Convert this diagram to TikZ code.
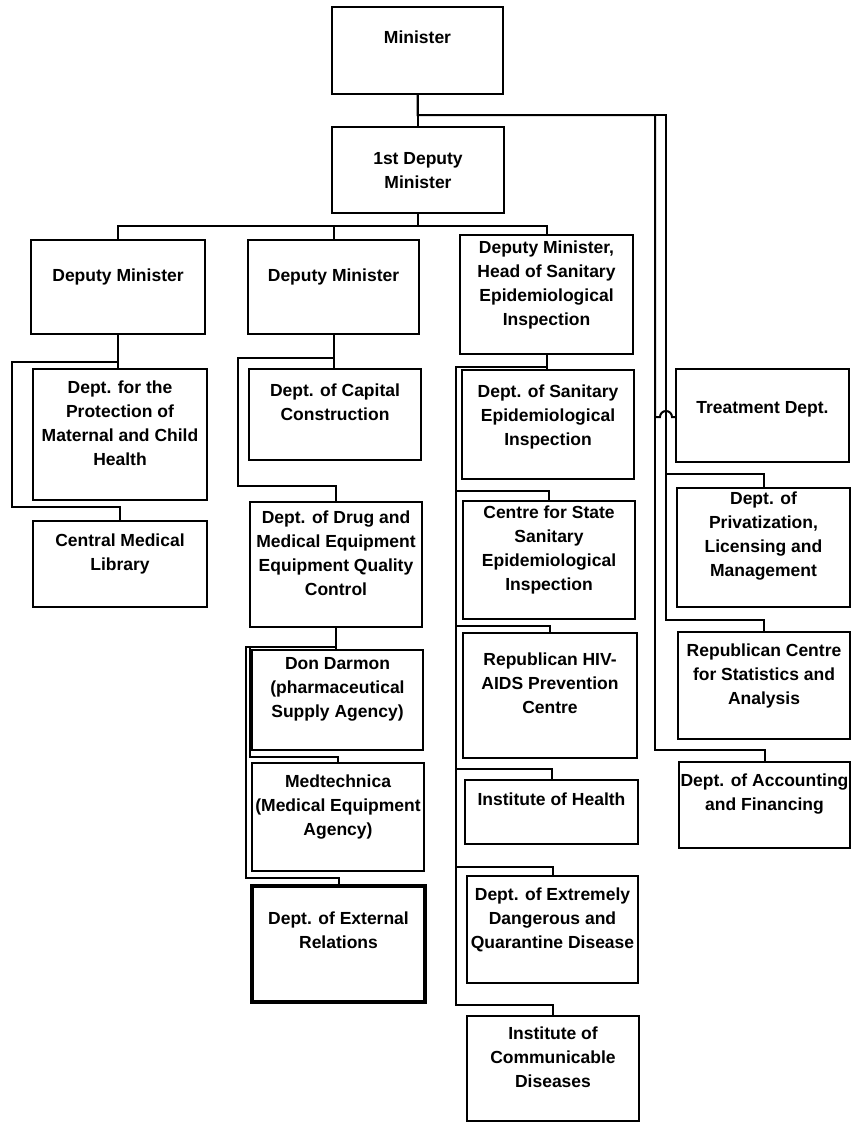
\documentclass[tikz,border=0pt]{standalone}
\usepackage{fontspec}
\setmainfont{Liberation Sans}
\tikzset{
  obox/.style={draw, line width=2.3pt, inner sep=0pt, outer sep=0pt},
  otxt/.style={font=\bfseries\fontsize{17.5}{24}\selectfont, align=center, inner sep=0pt},
  conn/.style={line width=2pt}
}
% #1 extra style, #2 name, #3 x1, #4 y1, #5 x2, #6 y2, #7 first line centre, #8 text
\newcommand{\ob}[8][]{%
  \node[obox,#1,minimum width={#5-#3},minimum height={#6-#4},anchor=north west] (#2) at (#3,#4) {};
  \node[otxt,anchor=north] (#2t) at ({(#3+#5)/2},{#7-7}) {\rule{0pt}{13pt}#8};
}
\begin{document}
\begin{tikzpicture}[x=1pt,y=-1pt]
\useasboundingbox (0,0) rectangle (852,1124);
\ob{min}{332}{7}{503}{94}{37}{Minister}
\ob{dep1}{332}{127}{504}{213}{158}{1st Deputy\\Minister}
\ob{dmL}{31}{240}{205}{334}{275}{Deputy Minister}
\ob{dmM}{248}{240}{419}{334}{275}{Deputy Minister}
\ob{head}{460}{235}{633}{354}{247}{Deputy Minister,\\Head of Sanitary\\Epidemiological\\Inspection}
\ob{prot}{33}{369}{207}{500}{387}{Dept. for the\\Protection of\\Maternal and Child\\Health}
\ob{lib}{33}{521}{207}{607}{540}{Central Medical\\Library}
\ob{cap}{249}{369}{421}{460}{390}{Dept. of Capital\\Construction}
\ob{drug}{250}{502}{422}{627}{517}{Dept. of Drug and\\Medical Equipment\\Equipment Quality\\Control}
\ob{don}{252}{650}{423}{750}{663}{Don Darmon\\(pharmaceutical\\Supply Agency)}
\ob{med}{252}{763}{424}{871}{781}{Medtechnica\\(Medical Equipment\\Agency)}
\ob[line width=4.5pt]{ext}{252}{886}{425}{1002}{918}{Dept. of External\\Relations}
\ob{san}{462}{370}{634}{479}{391}{Dept. of Sanitary\\Epidemiological\\Inspection}
\ob{cen}{463}{501}{635}{619}{512}{Centre for State\\Sanitary\\Epidemiological\\Inspection}
\ob{hiv}{463}{633}{637}{758}{659}{Republican HIV-\\AIDS Prevention\\Centre}
\ob{ih}{465}{780}{638}{844}{799}{Institute of Health}
\ob{edq}{467}{876}{638}{983}{894}{Dept. of Extremely\\Dangerous and\\Quarantine Disease}
\ob{icd}{467}{1016}{639}{1121}{1033}{Institute of\\Communicable\\Diseases}
\ob{treat}{676}{369}{849}{462}{407}{Treatment Dept.}
\ob{priv}{677}{488}{850}{607}{498}{Dept. of\\Privatization,\\Licensing and\\Management}
\ob{rep}{678}{632}{850}{739}{650}{Republican Centre\\for Statistics and\\Analysis}
\ob{acc}{679}{762}{850}{848}{780}{Dept. of Accounting\\and Financing}

% top
\draw[conn] (min.south) -- (min.south |- dep1.north);
\draw[conn] (dep1.south) -- (dep1.south |- 0,226);
\draw[conn] (dmL.north) -- (dmL.north |- 0,226) -- (head.north |- 0,226) -- (head.north);
\draw[conn] (dmM.north) -- (dmM.north |- 0,226);
% left column
\draw[conn] (dmL.south) -- (dmL.south |- prot.north);
\draw[conn] (dmL.south) -- (dmL.south |- 0,362) -- (12,362) -- (12,507) -- (lib.north |- 0,507) -- (lib.north);
% middle column
\draw[conn] (dmM.south) -- (dmM.south |- cap.north);
\draw[conn] (dmM.south) -- (dmM.south |- 0,358) -- (238,358) -- (238,486) -- (drug.north |- 0,486) -- (drug.north);
\draw[conn] (drug.south) -- (drug.south |- don.north);
\draw[conn] (drug.south) -- (drug.south |- 0,647) -- (250,647) -- (250,757) -- (med.north |- 0,757) -- (med.north);
\draw[conn] (drug.south) -- (drug.south |- 0,647) -- (246,647) -- (246,878) -- (ext.north |- 0,878) -- (ext.north);
% sanitary column
\draw[conn] (head.south) -- (head.south |- san.north);
\draw[conn] (head.south) -- (head.south |- 0,367) -- (456,367) -- (456,491) -- (cen.north |- 0,491) -- (cen.north);
\draw[conn] (head.south) -- (head.south |- 0,367) -- (456,367) -- (456,626) -- (hiv.north |- 0,626) -- (hiv.north);
\draw[conn] (head.south) -- (head.south |- 0,367) -- (456,367) -- (456,769) -- (ih.north |- 0,769) -- (ih.north);
\draw[conn] (head.south) -- (head.south |- 0,367) -- (456,367) -- (456,867) -- (edq.north |- 0,867) -- (edq.north);
\draw[conn] (head.south) -- (head.south |- 0,367) -- (456,367) -- (456,1005) -- (icd.north |- 0,1005) -- (icd.north);
% right side
\draw[conn] (min.south) -- (min.south |- 0,115) -- (655,115) -- (655,750) -- (acc.north |- 0,750) -- (acc.north);
\draw[conn] (min.south) -- (min.south |- 0,115) -- (666,115) -- (666,620) -- (rep.north |- 0,620) -- (rep.north);
\draw[conn] (min.south) -- (min.south |- 0,115) -- (666,115) -- (666,474) -- (priv.north |- 0,474) -- (priv.north);
\draw[conn] (min.south) -- (min.south |- 0,115) -- (655,115) -- (655,417) -- (660,417) arc[start angle=180, end angle=0, radius=6pt] -- (treat.west |- 0,417);
\end{tikzpicture}
\end{document}
